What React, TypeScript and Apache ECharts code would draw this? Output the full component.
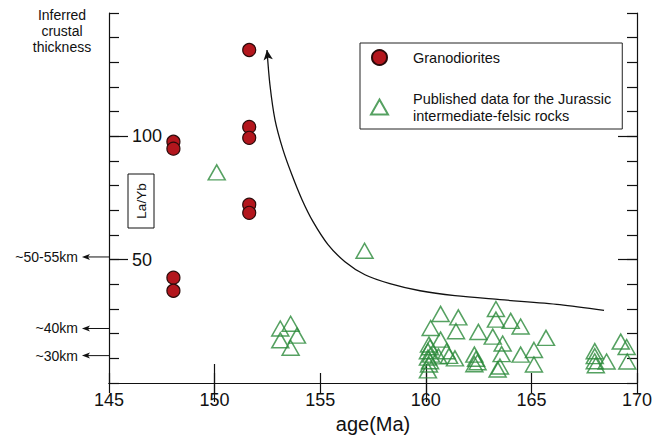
import React, { useEffect, useRef } from "react";
import * as echarts from "echarts";

const FONT = '"Liberation Sans", Arial, Helvetica, sans-serif';

const xTicksLong = [150, 160];
const yTicksLong = [50, 100];
const yLabelValues = [50, 100];

const granodiorites: [number, number][] = [
  [148.05, 97.8], [148.05, 95.0], [148.05, 42.7], [148.05, 37.4],
  [151.64, 135.0], [151.64, 103.8], [151.64, 99.4], [151.64, 72.3], [151.64, 69.0],
];

const published: [number, number][] = [
  [150.1, 85.4], [157.1, 53.6],
  [153.11, 22.1], [153.6, 24.0], [153.11, 17.3], [153.9, 19.2], [153.6, 14.3],
  [160.7, 28.0], [161.54, 26.6], [160.23, 22.3], [161.43, 21.0], [162.49, 20.7], [160.7, 17.6],
  [160.15, 15.6], [160.2, 14.5], [160.1, 12.9], [160.25, 11.5], [160.1, 10.3], [160.2, 8.8], [160.15, 7.5], [160.1, 5.1],
  [160.99, 12.9], [161.1, 11.0], [161.38, 10.0], [160.6, 10.8],
  [162.3, 11.5], [162.38, 9.8], [162.45, 8.4], [162.3, 7.6],
  [163.32, 30.0], [163.32, 25.7], [164.02, 25.2], [164.49, 22.9], [163.17, 18.8], [163.64, 16.0],
  [165.69, 18.3], [163.59, 11.7], [164.49, 11.5], [165.12, 13.4], [163.51, 6.7], [163.4, 5.5], [165.12, 7.5],
  [168.0, 12.9], [168.0, 10.9], [168.0, 8.8], [168.05, 7.2], [168.56, 8.7],
  [169.23, 16.8], [169.51, 14.6], [169.54, 8.7],
];

const trendCurve: [number, number][] = [
  [152.48, 135.0], [152.62, 120.9], [152.86, 106.7], [153.24, 94.5], [153.66, 84.4],
  [154.14, 74.3], [154.66, 65.4], [155.37, 56.1], [156.17, 49.2], [157.12, 43.9],
  [158.3, 40.3], [159.73, 37.4], [161.38, 35.4], [163.51, 33.8], [166.35, 31.8], [168.44, 29.4],
];

const annoLabels = ["~50-55km", "~40km", "~30km"];
const annoValues = [51.1, 22.1, 11.1];
const annoFrom = 145;
const annoTo = 143.72;

const SER_GRANO = "Granodiorites";
const SER_PUB = "Published data for the Jurassic\nintermediate-felsic rocks";

export default function App() {
  const ref = useRef<HTMLDivElement>(null);
  useEffect(() => {
    document.body.style.margin = "0";
    const chart = echarts.init(ref.current!, undefined, { renderer: "svg" });
    const axisLineStyle = { color: "#111", width: 1.2 };
    const baseX = { type: "value", min: 145, max: 170, interval: 5, splitLine: { show: false } };
    const baseY = { type: "value", min: 0, max: 150, interval: 10, splitLine: { show: false } };

    const option: any = {
      animation: false,
      backgroundColor: "#fff",
      textStyle: { fontFamily: FONT },
      grid: { left: 109, right: 27, top: 13, bottom: 59, outerBoundsMode: "none" },
      legend: {
        data: [SER_GRANO, SER_PUB],
        orient: "vertical",
        left: 360,
        top: 43,
        borderColor: "#222",
        borderWidth: 1,
        padding: [6, 11, 5, 10],
        itemGap: 24,
        itemWidth: 17,
        itemHeight: 15,
        textStyle: { fontSize: 14.5, fontFamily: FONT, color: "#111", lineHeight: 17, padding: [0, 0, 0, 20] },
      },
      xAxis: [
        {
          ...baseX,
          position: "bottom",
          axisLine: { show: true, lineStyle: axisLineStyle },
          axisTick: { show: true, inside: true, length: 10, lineStyle: axisLineStyle },
          axisLabel: { fontSize: 18, color: "#111", margin: 8, fontFamily: FONT },
          name: "age(Ma)",
          nameLocation: "middle",
          nameGap: 31,
          nameTextStyle: { fontSize: 20, color: "#111", fontFamily: FONT },
        },
        {
          ...baseX,
          position: "bottom",
          axisLine: { show: false },
          axisTick: { show: true, inside: true, length: 19, customValues: xTicksLong, lineStyle: axisLineStyle },
          axisLabel: { show: false },
        },
        {
          ...baseX,
          position: "top",
          axisLine: { show: true, lineStyle: axisLineStyle },
          axisTick: { show: true, inside: true, length: 10, lineStyle: axisLineStyle },
          axisLabel: { show: false },
        },
        {
          ...baseX,
          position: "top",
          axisLine: { show: false },
          axisTick: { show: true, inside: true, length: 19, customValues: xTicksLong, lineStyle: axisLineStyle },
          axisLabel: { show: false },
        },
      ],
      yAxis: [
        {
          ...baseY,
          position: "left",
          axisLine: { show: true, lineStyle: axisLineStyle },
          axisTick: { show: true, inside: true, length: 10, lineStyle: axisLineStyle },
          axisLabel: { show: true, inside: true, margin: 23, customValues: yLabelValues, fontSize: 18, color: "#111", fontFamily: FONT },
        },
        {
          ...baseY,
          position: "left",
          axisLine: { show: false },
          axisTick: { show: true, inside: true, length: 19, customValues: yTicksLong, lineStyle: axisLineStyle },
          axisLabel: { show: false },
        },
        {
          ...baseY,
          position: "right",
          axisLine: { show: true, lineStyle: axisLineStyle },
          axisTick: { show: true, inside: true, length: 10, lineStyle: axisLineStyle },
          axisLabel: { show: false },
        },
        {
          ...baseY,
          position: "right",
          axisLine: { show: false },
          axisTick: { show: true, inside: true, length: 19, customValues: yTicksLong, lineStyle: axisLineStyle },
          axisLabel: { show: false },
        },
      ],
      graphic: [
        {
          type: "text",
          x: 62,
          y: 7,
          style: {
            text: "Inferred\ncrustal\nthickness",
            align: "center",
            verticalAlign: "top",
            fontSize: 14,
            lineHeight: 16,
            fontFamily: FONT,
            fill: "#111",
          },
        },
        {
          type: "rect",
          shape: { x: 128, y: 174, width: 26, height: 54 },
          style: { fill: "#fff", stroke: "#111", lineWidth: 1 },
        },
        {
          type: "text",
          x: 141,
          y: 201,
          rotation: Math.PI / 2,
          style: {
            text: "La/Yb",
            align: "center",
            verticalAlign: "middle",
            fontSize: 13.5,
            fontFamily: FONT,
            fill: "#111",
          },
        },
      ],
      series: [
        {
          type: "scatter",
          name: SER_PUB,
          symbol: "triangle",
          symbolSize: [17, 15],
          itemStyle: { color: "rgba(255,255,255,0)", borderColor: "#2b8a3a", borderWidth: 1.5 },
          data: published,
        },
        {
          type: "scatter",
          name: SER_GRANO,
          symbol: "circle",
          symbolSize: 13,
          itemStyle: { color: "#b3161d", borderColor: "#2a0a0a", borderWidth: 1.2, opacity: 1 },
          data: granodiorites,
        },
        {
          type: "line",
          name: "trend",
          smooth: 0.3,
          symbol: "none",
          showSymbol: true,
          silent: true,
          lineStyle: { color: "#111", width: 1.3 },
          itemStyle: { color: "#111" },
          data: trendCurve.map((p, i) =>
            i === 0
              ? { value: p, symbol: "arrow", symbolSize: [7, 10], symbolRotate: 7 }
              : { value: p, symbol: "none" }
          ),
        },
        {
          type: "custom",
          name: "annotations",
          clip: false,
          silent: true,
          data: annoValues.map((v) => [annoFrom, v, annoTo]),
          renderItem: (params: any, api: any) => {
            const y = api.value(1);
            const p0 = api.coord([api.value(0), y]);
            const p1 = api.coord([api.value(2), y]);
            const text = annoLabels[params.dataIndex];
            return {
              type: "group",
              children: [
                {
                  type: "line",
                  shape: { x1: p0[0], y1: p0[1], x2: p1[0] + 4, y2: p1[1] },
                  style: { stroke: "#111", lineWidth: 1 },
                },
                {
                  type: "polygon",
                  shape: {
                    points: [
                      [p1[0], p1[1]],
                      [p1[0] + 8, p1[1] - 3],
                      [p1[0] + 6, p1[1]],
                      [p1[0] + 8, p1[1] + 3],
                    ],
                  },
                  style: { fill: "#111" },
                },
                {
                  type: "text",
                  x: p1[0] - 4,
                  y: p1[1],
                  style: {
                    text,
                    align: "right",
                    verticalAlign: "middle",
                    fontSize: 14,
                    fontFamily: FONT,
                    fill: "#111",
                  },
                },
              ],
            };
          },
        },
      ],
    };
    chart.setOption(option);
    return () => chart.dispose();
  }, []);
  return <div ref={ref} style={{ width: 664, height: 442 }} />;
}
